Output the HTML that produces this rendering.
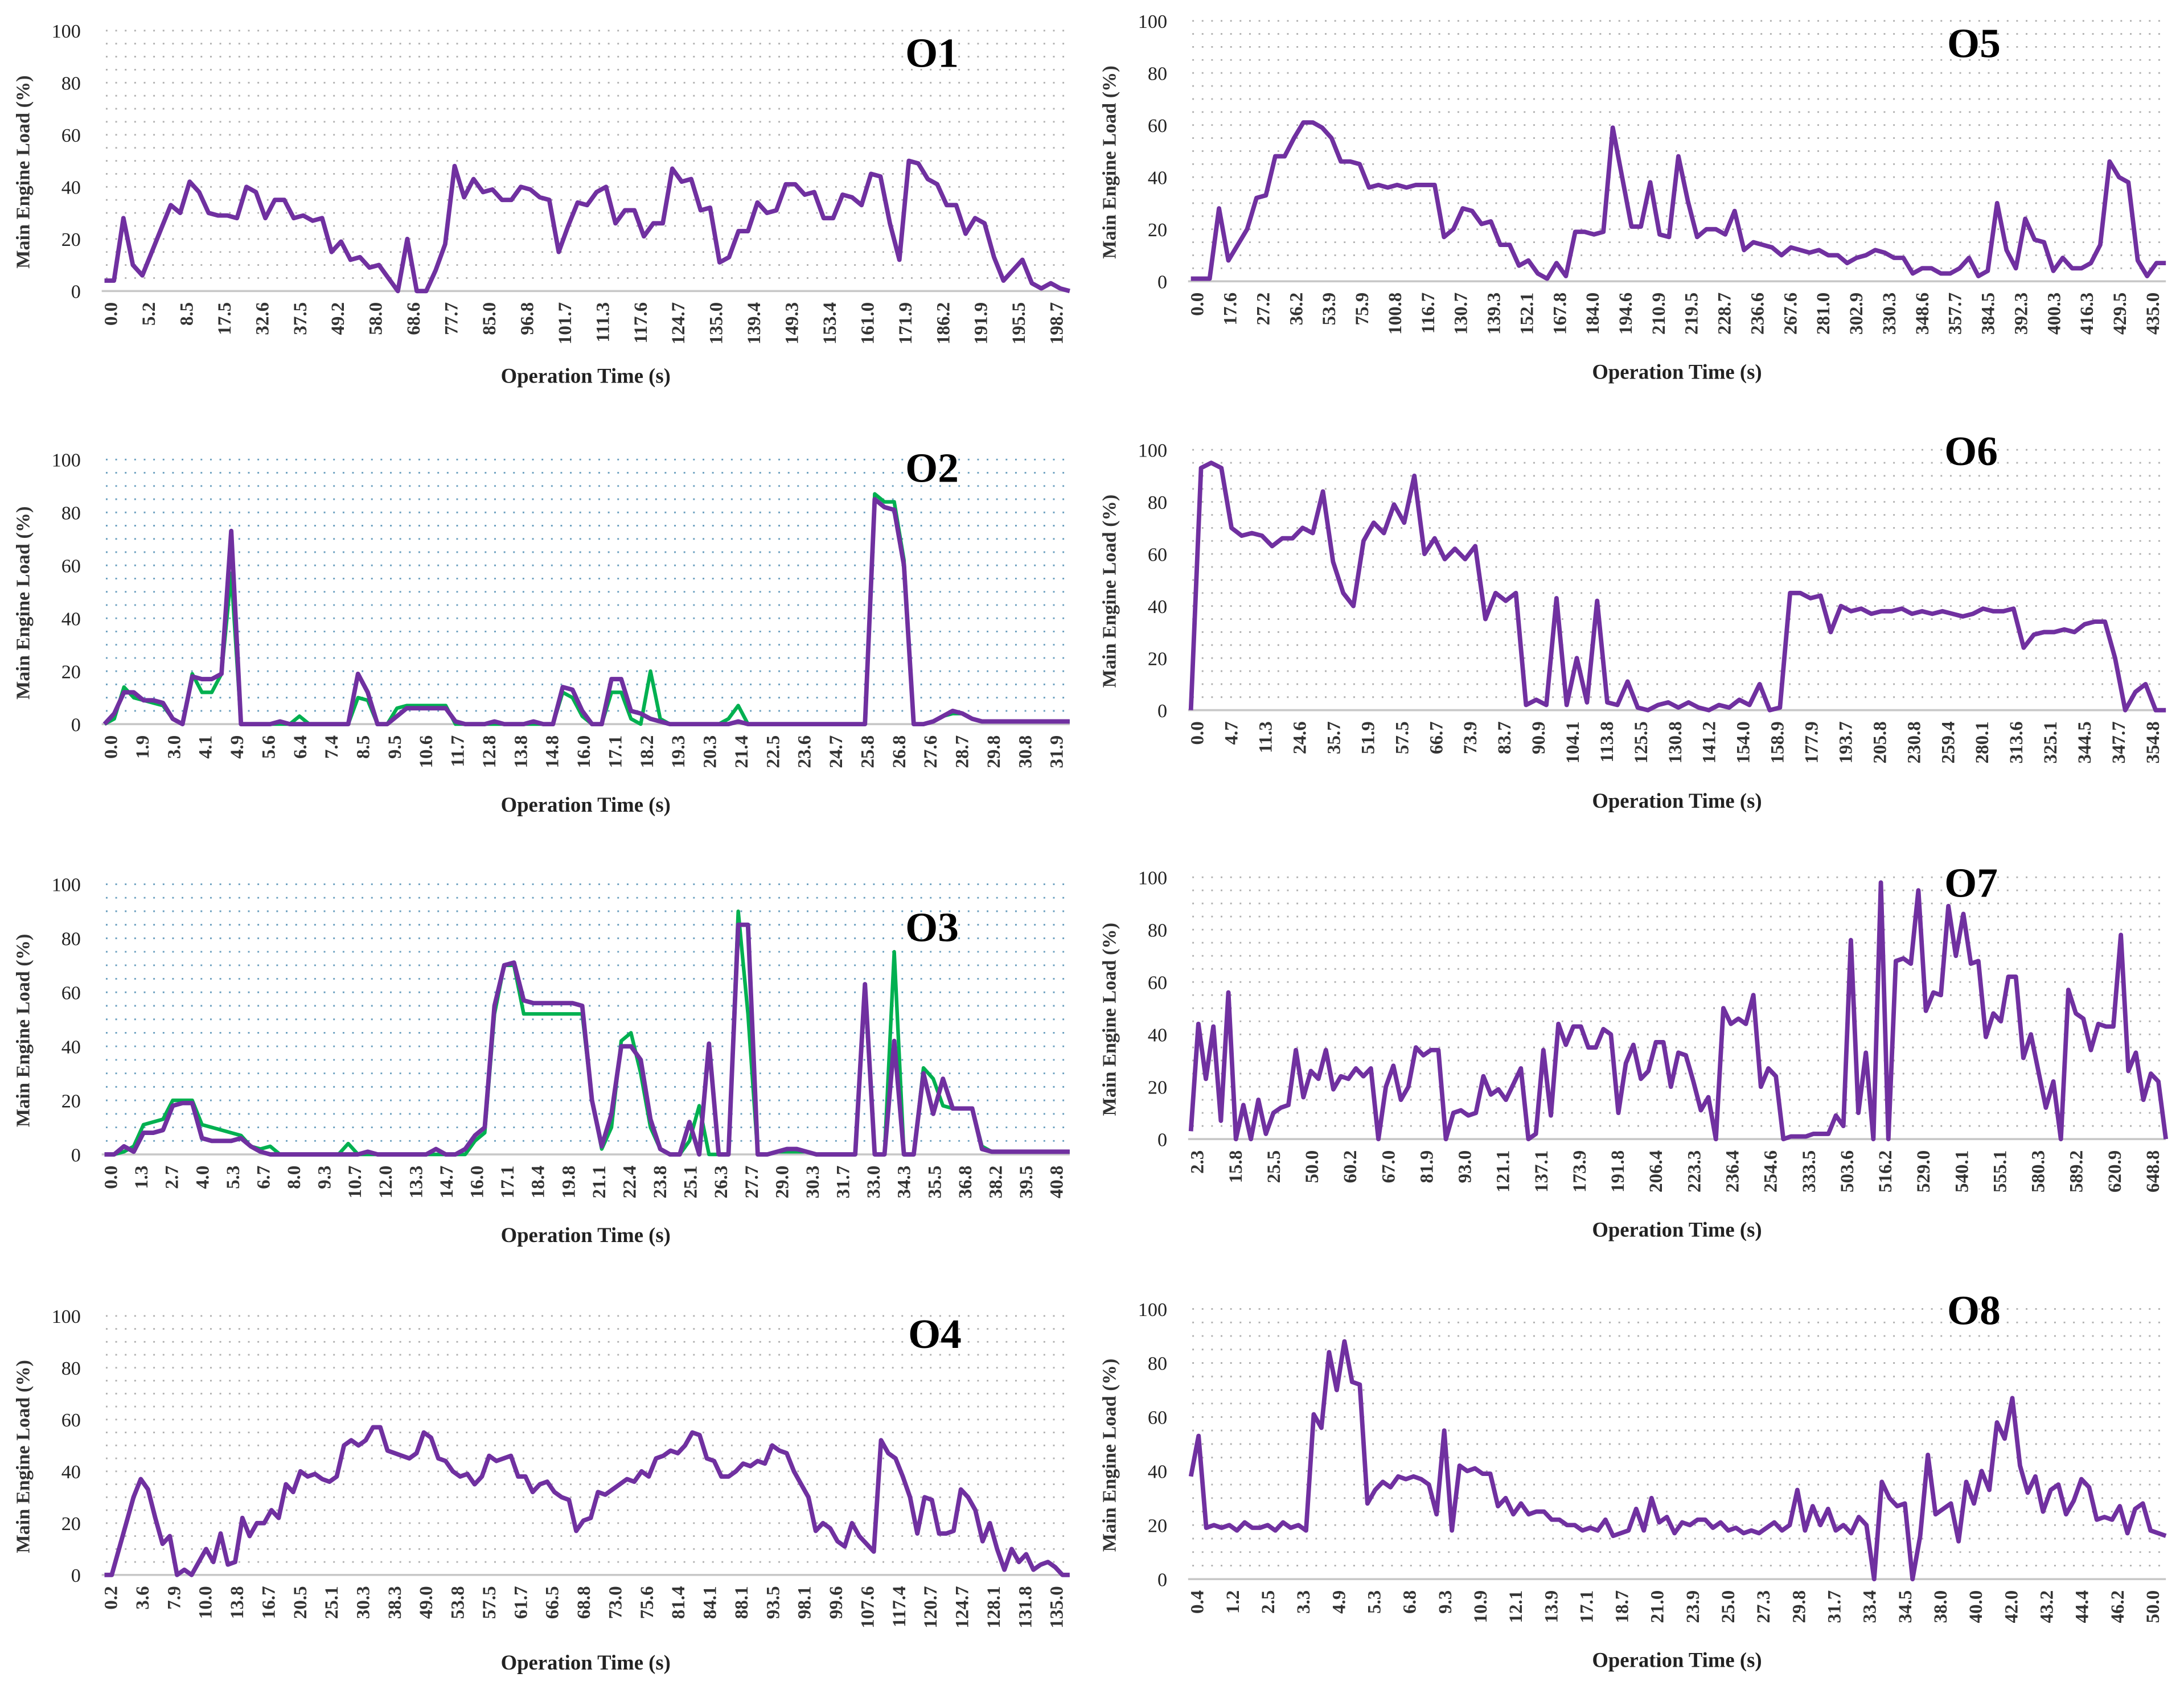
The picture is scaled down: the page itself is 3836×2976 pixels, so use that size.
<!DOCTYPE html>
<html><head><meta charset="utf-8">
<style>
html,body{margin:0;padding:0;background:#fff;}
svg{display:block;}
text{font-family:"Liberation Serif",serif;}
</style></head>
<body>
<svg id="chart" width="3836" height="2976" viewBox="0 0 1568 1216.5" xmlns="http://www.w3.org/2000/svg"></svg>
<script>
// ---------- data ----------
const o1Labels = ["0.0","5.2","8.5","17.5","32.6","37.5","49.2","58.0","68.6","77.7","85.0","96.8","101.7","111.3","117.6","124.7","135.0","139.4","149.3","153.4","161.0","171.9","186.2","191.9","195.5","198.7"];
const o1Load = [4,4,28,10,6,15,24,33,30,42,38,30,29,29,28,40,38,28,35,35,28,29,27,28,15,19,12,13,9,10,5,0,20,0,0,8,18,48,36,43,38,39,35,35,40,39,36,35,15,25,34,33,38,40,26,31,31,21,26,26,47,42,43,31,32,11,13,23,23,34,30,31,41,41,37,38,28,28,37,36,33,45,44,26,12,50,49,43,41,33,33,22,28,26,13,4,8,12,3,1,3,1,0];

const o2Labels = ["0.0","1.9","3.0","4.1","4.9","5.6","6.4","7.4","8.5","9.5","10.6","11.7","12.8","13.8","14.8","16.0","17.1","18.2","19.3","20.3","21.4","22.5","23.6","24.7","25.8","26.8","27.6","28.7","29.8","30.8","31.9"];
const o2Purple = [0,4,12,12,9,9,8,2,0,18,17,17,19,73,0,0,0,0,1,0,0,0,0,0,0,0,19,12,0,0,3,6,6,6,6,6,1,0,0,0,1,0,0,0,1,0,0,14,13,5,0,0,17,17,5,4,2,1,0,0,0,0,0,0,0,1,0,0,0,0,0,0,0,0,0,0,0,0,0,85,82,81,60,0,0,1,3,5,4,2,1,1,1,1,1,1,1,1,1,1];
const o2Green = [0,2,14,10,9,8,7,2,0,19,12,12,19,57,0,0,0,0,0,0,3,0,0,0,0,0,10,9,0,0,6,7,7,7,7,7,0,0,0,0,0,0,0,0,0,0,0,12,10,3,0,0,12,12,2,0,20,2,0,0,0,0,0,0,2,7,0,0,0,0,0,0,0,0,0,0,0,0,0,87,84,84,62,0,0,1,3,4,4,2,1,1,1,1,1,1,1,1,1,1];

const o3Labels = ["0.0","1.3","2.7","4.0","5.3","6.7","8.0","9.3","10.7","12.0","13.3","14.7","16.0","17.1","18.4","19.8","21.1","22.4","23.8","25.1","26.3","27.7","29.0","30.3","31.7","33.0","34.3","35.5","36.8","38.2","39.5","40.8"];
const o3Purple = [0,0,3,1,8,8,9,18,19,19,6,5,5,5,6,3,1,0,0,0,0,0,0,0,0,0,0,1,0,0,0,0,0,0,2,0,0,2,7,10,55,70,71,57,56,56,56,56,56,55,20,3,15,40,40,35,13,2,0,0,12,0,41,0,0,85,85,0,0,1,2,2,1,0,0,0,0,0,63,0,0,42,0,0,30,15,28,17,17,17,2,1,1,1,1,1,1,1,1,1];
const o3Green = [0,0,1,3,11,12,13,20,20,20,11,10,9,8,7,3,2,3,0,0,0,0,0,0,0,4,0,0,0,0,0,0,0,0,0,0,0,0,5,8,52,70,70,52,52,52,52,52,52,52,20,2,10,42,45,30,10,2,0,0,5,18,0,0,0,90,52,0,0,1,1,1,1,0,0,0,0,0,60,0,0,75,0,0,32,28,18,17,17,17,3,1,1,1,1,1,1,1,1,1];

const o4Labels = ["0.2","3.6","7.9","10.0","13.8","16.7","20.5","25.1","30.3","38.3","49.0","53.8","57.5","61.7","66.5","68.8","73.0","75.6","81.4","84.1","88.1","93.5","98.1","99.6","107.6","117.4","120.7","124.7","128.1","131.8","135.0"];
const o4Load = [0,0,10,20,30,37,33,22,12,15,0,2,0,5,10,5,16,4,5,22,15,20,20,25,22,35,32,40,38,39,37,36,38,50,52,50,52,57,57,48,47,46,45,47,55,53,45,44,40,38,39,35,38,46,44,45,46,38,38,32,35,36,32,30,29,17,21,22,32,31,33,35,37,36,40,38,45,46,48,47,50,55,54,45,44,38,38,40,43,42,44,43,50,48,47,40,35,30,17,20,18,13,11,20,15,12,9,52,47,45,38,30,16,30,29,16,16,17,33,30,25,13,20,10,2,10,5,8,2,4,5,3,0,0];

const o5Labels = ["0.0","17.6","27.2","36.2","53.9","75.9","100.8","116.7","130.7","139.3","152.1","167.8","184.0","194.6","210.9","219.5","228.7","236.6","267.6","281.0","302.9","330.3","348.6","357.7","384.5","392.3","400.3","416.3","429.5","435.0"];
const o5Load = [1,1,1,28,8,14,20,32,33,48,48,55,61,61,59,55,46,46,45,36,37,36,37,36,37,37,37,17,20,28,27,22,23,14,14,6,8,3,1,7,2,19,19,18,19,59,40,21,21,38,18,17,48,31,17,20,20,18,27,12,15,14,13,10,13,12,11,12,10,10,7,9,10,12,11,9,9,3,5,5,3,3,5,9,2,4,30,12,5,24,16,15,4,9,5,5,7,14,46,40,38,8,2,7,7];

const o6Labels = ["0.0","4.7","11.3","24.6","35.7","51.9","57.5","66.7","73.9","83.7","90.9","104.1","113.8","125.5","130.8","141.2","154.0","158.9","177.9","193.7","205.8","230.8","259.4","280.1","313.6","325.1","344.5","347.7","354.8"];
const o6Load = [0,93,95,93,70,67,68,67,63,66,66,70,68,84,57,45,40,65,72,68,79,72,90,60,66,58,62,58,63,35,45,42,45,2,4,2,43,2,20,3,42,3,2,11,1,0,2,3,1,3,1,0,2,1,4,2,10,0,1,45,45,43,44,30,40,38,39,37,38,38,39,37,38,37,38,37,36,37,39,38,38,39,24,29,30,30,31,30,33,34,34,20,0,7,10,0,0];

const o7Labels = ["2.3","15.8","25.5","50.0","60.2","67.0","81.9","93.0","121.1","137.1","173.9","191.8","206.4","223.3","236.4","254.6","333.5","503.6","516.2","529.0","540.1","555.1","580.3","589.2","620.9","648.8"];
const o7Load = [3,44,23,43,7,56,0,13,0,15,2,10,12,13,34,16,26,23,34,19,24,23,27,24,27,0,20,28,15,20,35,32,34,34,0,10,11,9,10,24,17,19,15,21,27,0,2,34,9,44,36,43,43,35,35,42,40,10,29,36,23,26,37,37,20,33,32,22,11,16,0,50,44,46,44,55,20,27,24,0,1,1,1,2,2,2,9,5,76,10,33,0,98,0,68,69,67,95,49,56,55,89,70,86,67,68,39,48,45,62,62,31,40,26,12,22,0,57,48,46,34,44,43,43,78,26,33,15,25,22,0];

const o8Labels = ["0.4","1.2","2.5","3.3","4.9","5.3","6.8","9.3","10.9","12.1","13.9","17.1","18.7","21.0","23.9","25.0","27.3","29.8","31.7","33.4","34.5","38.0","40.0","42.0","43.2","44.4","46.2","50.0"];
const o8Load = [38,53,19,20,19,20,18,21,19,19,20,18,21,19,20,18,61,56,84,70,88,73,72,28,33,36,34,38,37,38,37,35,24,55,18,42,40,41,39,39,27,30,24,28,24,25,25,22,22,20,20,18,19,18,22,16,17,18,26,18,30,21,23,17,21,20,22,22,19,21,18,19,17,18,17,19,21,18,20,33,18,27,20,26,18,20,17,23,20,0,36,30,27,28,0,16,46,24,26,28,14,36,28,40,33,58,52,67,42,32,38,25,33,35,24,29,37,34,22,23,22,27,17,26,28,18,17,16];

const yTicks = [0,20,40,60,80,100];

// ---------- drawing ----------
const NS = "http://www.w3.org/2000/svg";
const svg = document.getElementById("chart");
function mk(tag, parent){ const e=document.createElementNS(NS,tag); parent.appendChild(e); return e; }

const panels = [
  {id:"o1", title:"O1", x0:73, x1:768, yT:22, yB:209, xt:275, tx:650, ty:48, labels:o1Labels, series:[[o1Load,"#7030a0"]], dot:"#b0b0b0"},
  {id:"o2", title:"O2", x0:73, x1:768, yT:330, yB:520, xt:583, tx:650, ty:346, labels:o2Labels, series:[[o2Green,"#00b050"],[o2Purple,"#7030a0"]], dot:"#6a9fbf"},
  {id:"o3", title:"O3", x0:73, x1:768, yT:635, yB:829, xt:892, tx:650, ty:676, labels:o3Labels, series:[[o3Green,"#00b050"],[o3Purple,"#7030a0"]], dot:"#6a9fbf"},
  {id:"o4", title:"O4", x0:73, x1:768, yT:945, yB:1131, xt:1199, tx:652, ty:968, labels:o4Labels, series:[[o4Load,"#7030a0"]], dot:"#b0b0b0"},
  {id:"o5", title:"O5", x0:853, x1:1555, yT:15, yB:202, xt:272, tx:1398, ty:41, labels:o5Labels, series:[[o5Load,"#7030a0"]], dot:"#b0b0b0"},
  {id:"o6", title:"O6", x0:853, x1:1555, yT:323, yB:510, xt:580, tx:1396, ty:334, labels:o6Labels, series:[[o6Load,"#7030a0"]], dot:"#b0b0b0"},
  {id:"o7", title:"O7", x0:853, x1:1555, yT:630, yB:818, xt:888, tx:1396, ty:644, labels:o7Labels, series:[[o7Load,"#7030a0"]], dot:"#b0b0b0"},
  {id:"o8", title:"O8", x0:853, x1:1555, yT:940, yB:1134, xt:1197, tx:1398, ty:951, labels:o8Labels, series:[[o8Load,"#7030a0"]], dot:"#b0b0b0"}
];

panels.forEach(p=>{
  const g = mk("g", svg);
  
  
  const yS = v => p.yB - (v/100)*(p.yB-p.yT);

  const grid = mk("g", g);
  
  
  for(let v=5; v<=100; v+=5){
    const l = mk("line", grid);
    l.setAttribute("x1", p.x0+3); l.setAttribute("x2", p.x1);
    l.setAttribute("y1", yS(v)); l.setAttribute("y2", yS(v));
    l.setAttribute("stroke", p.dot); l.setAttribute("stroke-width", "1.2");
    l.setAttribute("stroke-dasharray", "1.2 5.6");
  }
  const base = mk("line", g);
  
  
  base.setAttribute("x1", p.x0); base.setAttribute("x2", p.x1);
  base.setAttribute("y1", p.yB); base.setAttribute("y2", p.yB);
  base.setAttribute("stroke", "#c8c8c8"); base.setAttribute("stroke-width", "1.5");

  yTicks.forEach(v=>{
    const t = mk("text", g);
    
    
    t.setAttribute("x", p.x0-15); t.setAttribute("y", yS(v)+5);
    t.setAttribute("text-anchor", "end"); t.setAttribute("font-size", "14");
    t.setAttribute("fill", "#222");
    t.textContent = v;
  });
  const yt = mk("text", g);
  
  
  const cy = (p.yT+p.yB)/2 + 8, cx = p.x0-52;
  yt.setAttribute("transform", `translate(${cx},${cy}) rotate(-90)`);
  yt.setAttribute("text-anchor", "middle"); yt.setAttribute("font-size", "14");
  yt.setAttribute("font-weight", "bold"); yt.setAttribute("fill", "#333");
  yt.textContent = "Main Engine Load (%)";

  const n = p.labels.length;
  const lx0 = p.x0+6, lx1 = p.x1-10;
  p.labels.forEach((s,i)=>{
    const t = mk("text", g);
    
    
    const x = lx0 + i*(lx1-lx0)/(n-1);
    t.setAttribute("transform", `translate(${x+5},${p.yB+8}) rotate(-90)`);
    t.setAttribute("text-anchor", "end"); t.setAttribute("font-size", "13.5");
    t.setAttribute("font-weight", "bold"); t.setAttribute("fill", "#333");
    t.textContent = s;
  });
  const xt = mk("text", g);
  
  
  xt.setAttribute("x", (p.x0+p.x1)/2); xt.setAttribute("y", p.xt);
  xt.setAttribute("text-anchor", "middle"); xt.setAttribute("font-size", "15");
  xt.setAttribute("font-weight", "bold"); xt.setAttribute("fill", "#222");
  xt.textContent = "Operation Time (s)";

  p.series.forEach(([vals,color])=>{
    const m = vals.length;
    const xS = i => p.x0 + 2 + i*(p.x1-p.x0-2)/(m-1);
    const pl = mk("polyline", g);
    
    
    pl.setAttribute("points", vals.map((v,i)=>xS(i).toFixed(2)+","+yS(v).toFixed(2)).join(" "));
    pl.setAttribute("fill", "none"); pl.setAttribute("stroke", color);
    pl.setAttribute("stroke-width", color==="#00b050"?"2.6":"3.2");
    pl.setAttribute("stroke-linejoin", "round");
  });

  const tt = mk("text", g);
  
  
  tt.setAttribute("x", p.tx); tt.setAttribute("y", p.ty);
  tt.setAttribute("font-size", "30"); tt.setAttribute("font-weight", "bold");
  tt.setAttribute("fill", "#000");
  tt.textContent = p.title;
});
</script>
</body></html>
